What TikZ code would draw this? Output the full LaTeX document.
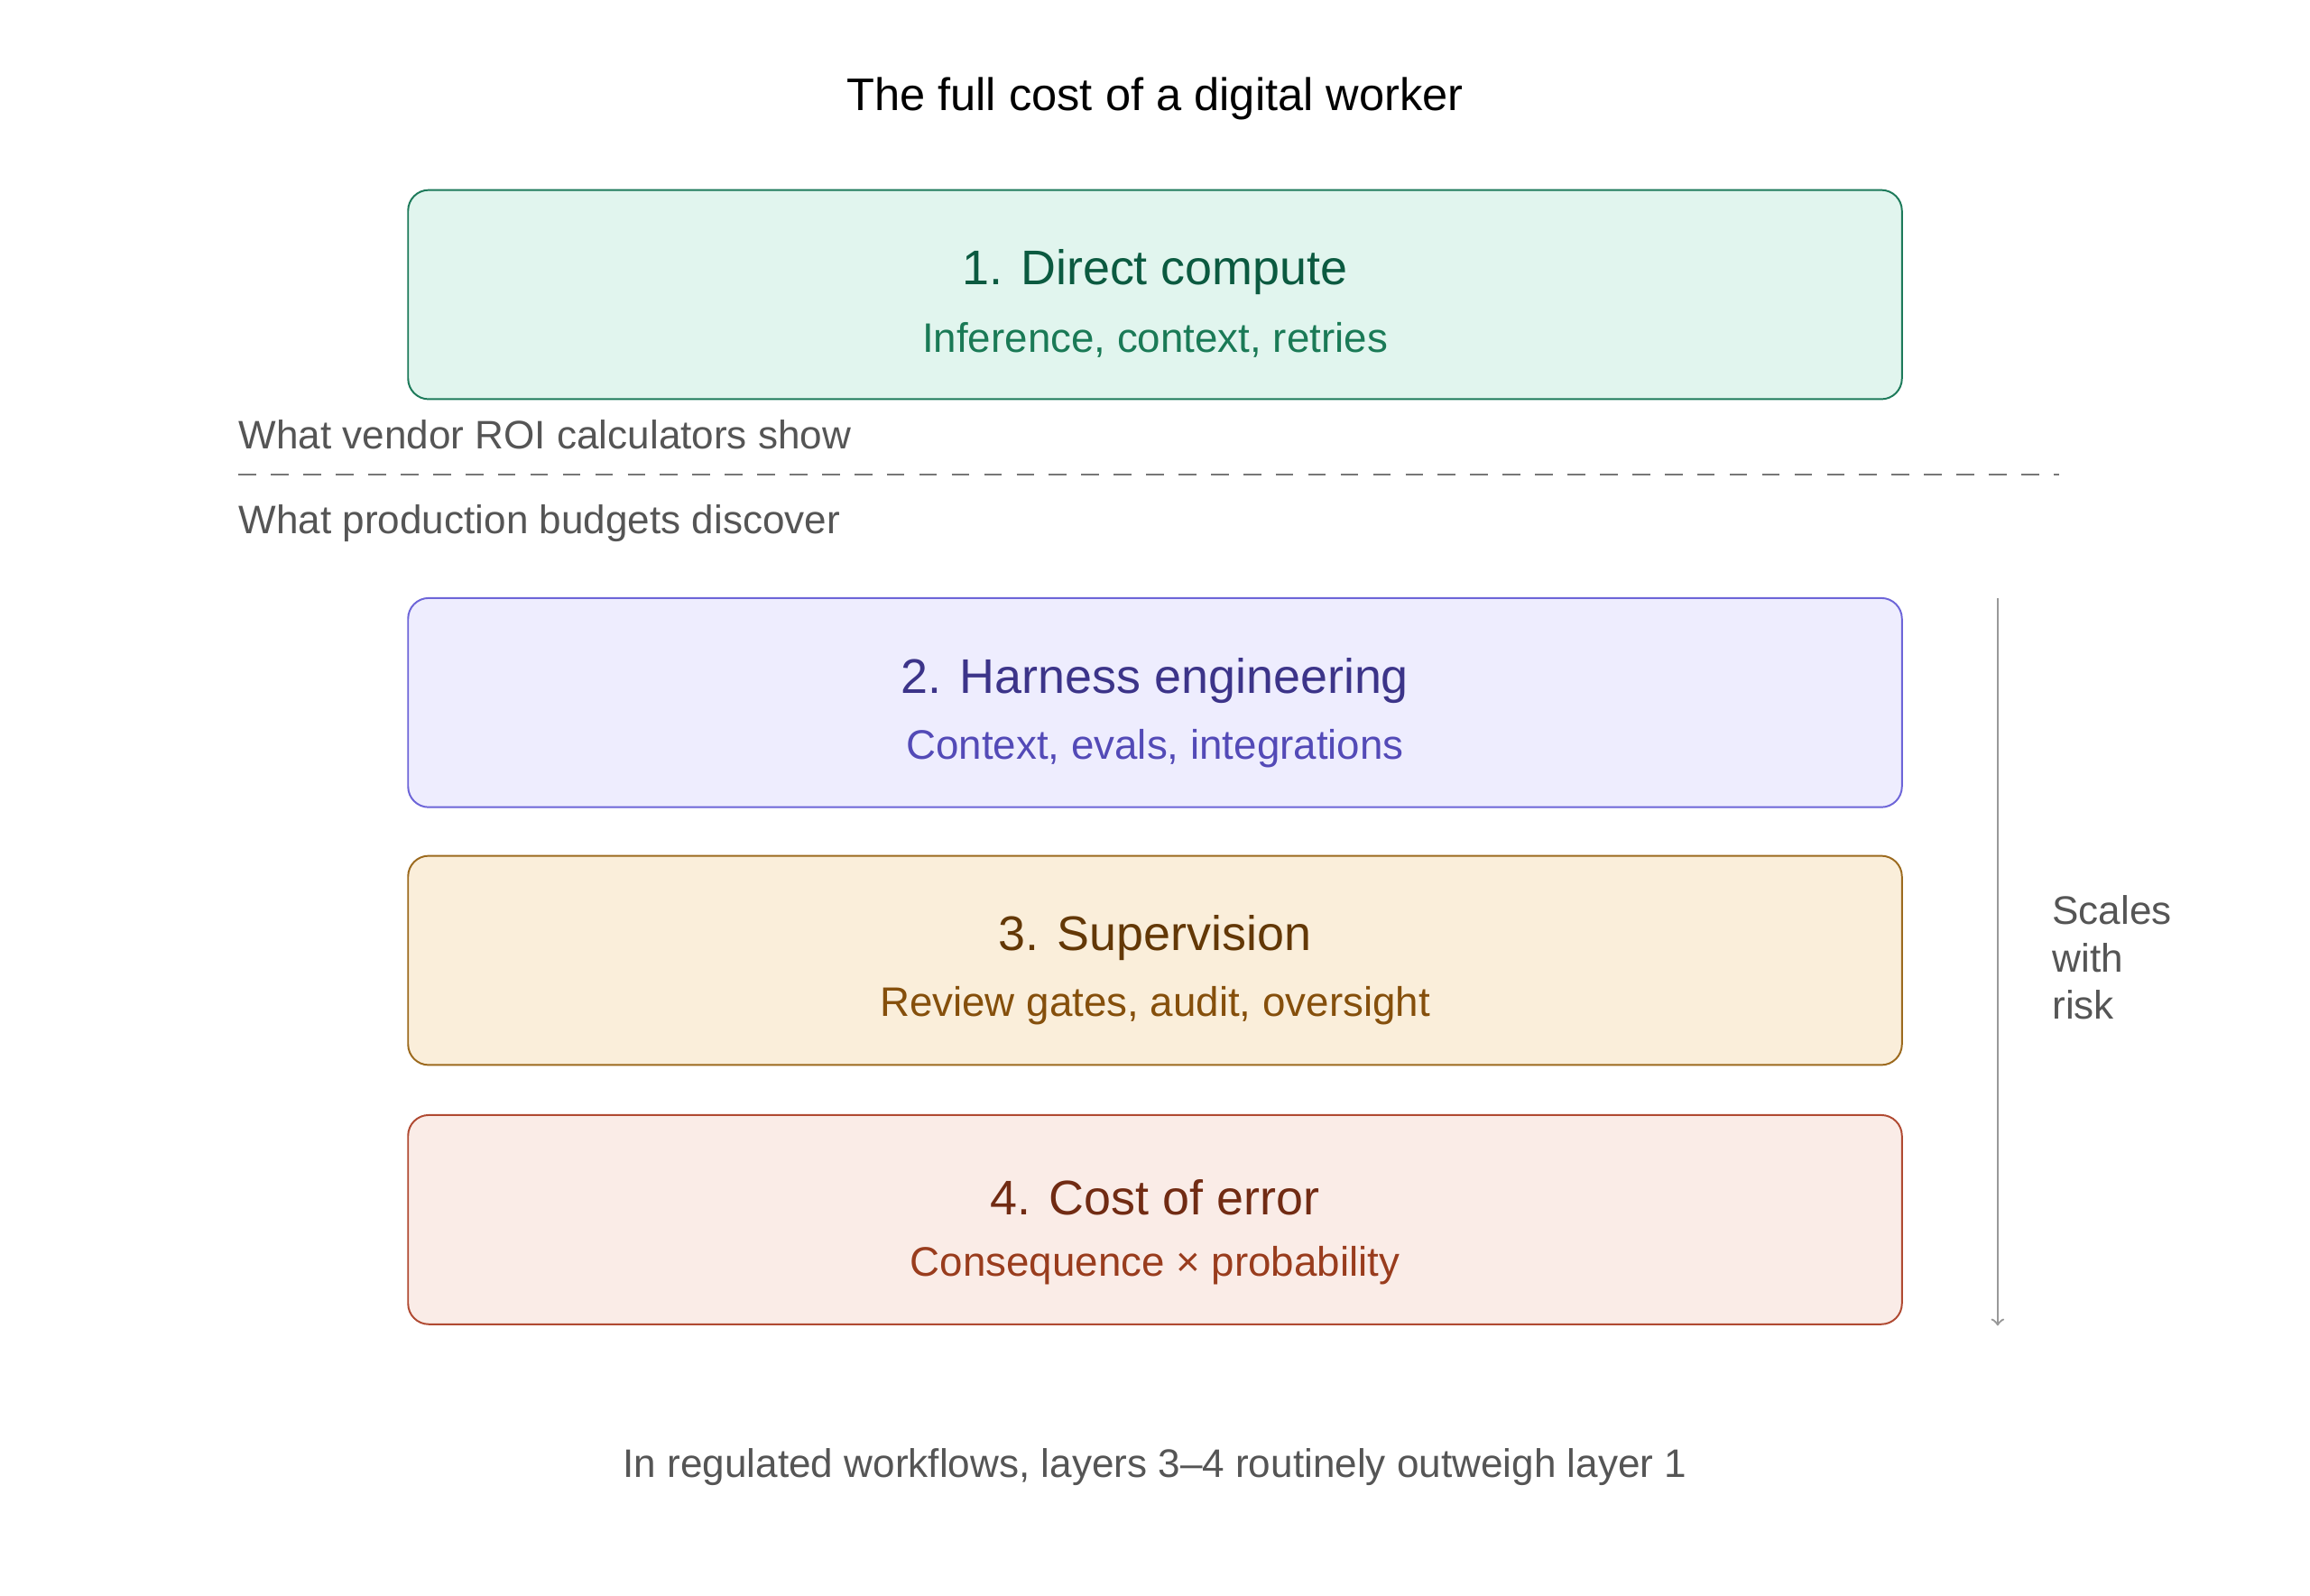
\documentclass[tikz,border=0pt]{standalone}
\usepackage{fontspec}
\setmainfont{Liberation Sans}
\usetikzlibrary{positioning}
\definecolor{grnFill}{HTML}{E1F5EE}\definecolor{grnLine}{HTML}{1D7A5A}
\definecolor{grnHead}{HTML}{0B5A40}\definecolor{grnSub}{HTML}{1A7A56}
\definecolor{purFill}{HTML}{EEEDFE}\definecolor{purLine}{HTML}{6D65D8}
\definecolor{purHead}{HTML}{3C3489}\definecolor{purSub}{HTML}{534AB7}
\definecolor{orgFill}{HTML}{FAEEDA}\definecolor{orgLine}{HTML}{9C6A1E}
\definecolor{orgHead}{HTML}{633806}\definecolor{orgSub}{HTML}{854F0B}
\definecolor{redFill}{HTML}{FAECE7}\definecolor{redLine}{HTML}{B04A32}
\definecolor{redHead}{HTML}{712B13}\definecolor{redSub}{HTML}{993C1D}
\definecolor{txtGray}{HTML}{555555}
\tikzset{
  layer/.style={draw=#1Line, fill=#1Fill, line width=0.6pt, rounded corners=7pt,
    minimum width=507pt, minimum height=71pt},
  head/.style={font=\fontsize{16.5}{20}\selectfont, text=#1Head},
  sub/.style={font=\fontsize{14}{17}\selectfont, text=#1Sub},
  note/.style={font=\fontsize{13.5}{16}\selectfont, text=txtGray}
}
\begin{document}
\begin{tikzpicture}[x=0.5pt,y=-0.5pt]
  \useasboundingbox (0,0) rectangle (1568,1083);

  % Title
  \node[font=\fontsize{15.5}{19}\selectfont] (title) at (784,67) {The full cost of a digital worker};

  % Layer 1
  \node[layer=grn] (l1) at (784,200) {};
  \node[head=grn] (l1h) at (784,185) {1. Direct compute};
  \node[sub=grn] (l1s) at (784,231) {Inference, context, retries};

  % Boundary
  \node[note, anchor=west] (shown) at (155,295) {What vendor ROI calculators show};
  \coordinate (dashL) at (162,322);
  \coordinate (dashR) at (1398,322);
  \draw[txtGray!80, line width=0.6pt, dash pattern=on 6pt off 5pt] (dashL) -- (dashR);
  \node[note, anchor=west] (found) at (155,355) {What production budgets discover};

  % Layer 2
  \node[layer=pur] (l2) at (784,477) {};
  \node[head=pur] (l2h) at (784,462) {2. Harness engineering};
  \node[sub=pur] (l2s) at (784,508) {Context, evals, integrations};

  % Layer 3
  \node[layer=org] (l3) at (784,652) {};
  \node[head=org] (l3h) at (784,637) {3. Supervision};
  \node[sub=org] (l3s) at (784,683) {Review gates, audit, oversight};

  % Layer 4
  \node[layer=red] (l4) at (784,828) {};
  \node[head=red] (l4h) at (784,813) {4. Cost of error};
  \node[sub=red] (l4s) at (784,859) {Consequence × probability};

  % Risk arrow
  \coordinate (riskTop) at (1356,406);
  \coordinate (riskEnd) at (1356,900);
  \draw[gray!80, line width=0.7pt, ->] (riskTop) -- (riskEnd);
  \node[note, anchor=west, align=left] (risk) at (1386,650) {Scales\\with\\risk};

  % Footer
  \node[note] (foot) at (784,996) {In regulated workflows, layers 3–4 routinely outweigh layer 1};
\end{tikzpicture}
\end{document}
